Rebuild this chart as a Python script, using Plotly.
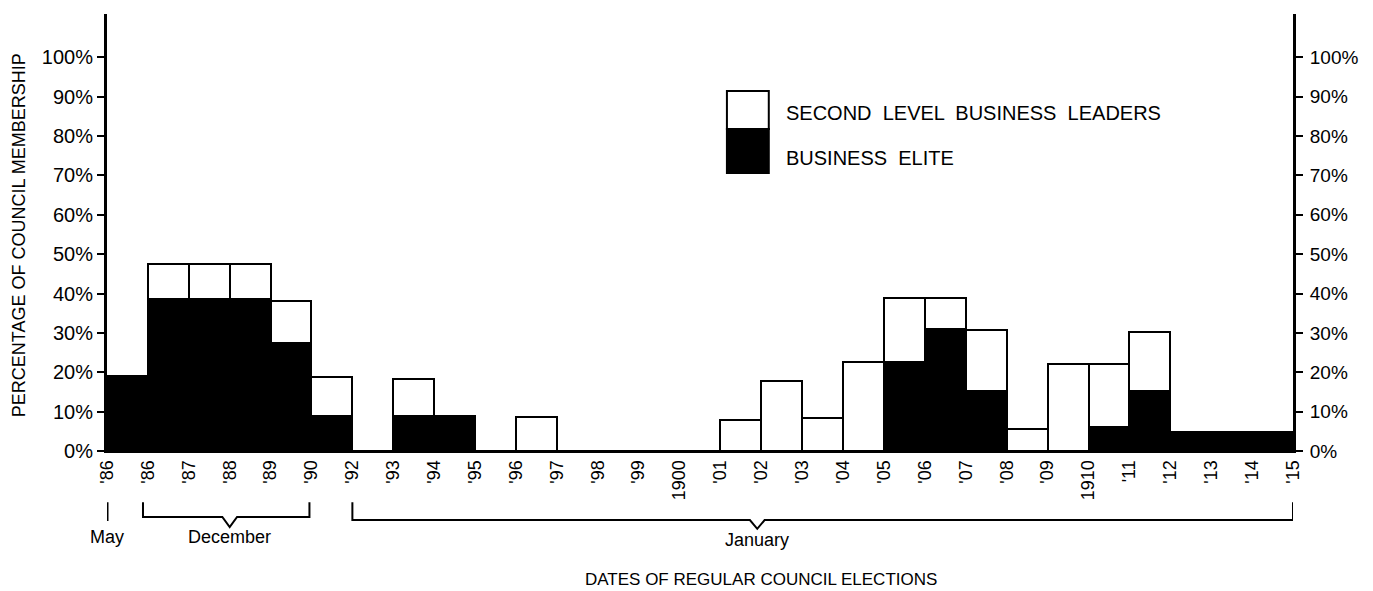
import numpy as np
import plotly.graph_objects as go

# Election date labels (bar boundaries)
tick_labels = ["'86", "'86", "'87", "'88", "'89", "'90", "'92", "'93", "'94", "'95",
               "'96", "'97", "'98", "'99", "1900", "'01", "'02", "'03", "'04", "'05",
               "'06", "'07", "'08", "'09", "1910", "'11", "'12", "'13", "'14", "'15"]

# Percent of council membership for each interval between elections
business_elite = [19, 38.5, 38.5, 38.5, 27.5, 9, 0, 9, 9, 0,
                  0, 0, 0, 0, 0, 0, 0, 0, 0, 22.5,
                  31, 15.2, 0, 0, 6, 15.2, 4.8, 4.8, 4.8]
second_level = [0, 9, 9, 9, 10.5, 9.8, 0, 9.3, 0, 0,
                8.6, 0, 0, 0, 0, 7.9, 17.8, 8.4, 22.6, 16.3,
                7.8, 15.5, 5.6, 22.1, 16.1, 15, 0, 0, 0]

y_ticks = [0, 10, 20, 30, 40, 50, 60, 70, 80, 90, 100]
y_ticktext = [f"{v}%" for v in y_ticks]

FONT = "Liberation Sans, Arial, Helvetica, sans-serif"

n = len(business_elite)
xc = np.arange(n) + 0.5

fig = go.Figure()
fig.add_trace(go.Bar(x=xc, y=business_elite, width=1, name="BUSINESS ELITE",
                     marker=dict(color="black", line=dict(color="black", width=2))))
fig.add_trace(go.Bar(x=xc, y=second_level, width=1, name="SECOND LEVEL BUSINESS LEADERS",
                     marker=dict(color="white", line=dict(color="black", width=2))))
# empty trace so that the right-hand axis is drawn
fig.add_trace(go.Scatter(x=[], y=[], yaxis="y2", showlegend=False, hoverinfo="skip"))

fig.update_layout(
    width=1365, height=583,
    margin=dict(l=99, r=80, t=6, b=140),
    barmode="stack", bargap=0,
    plot_bgcolor="white", paper_bgcolor="white",
    showlegend=False,
    font=dict(family=FONT, color="black", size=18),
    xaxis=dict(range=[0, n], tickvals=list(range(n + 1)), ticktext=tick_labels,
               tickangle=-90, ticks="", showline=True, linecolor="black", linewidth=2,
               showgrid=False, zeroline=False, tickfont=dict(size=18)),
    yaxis=dict(range=[0, 111], tickvals=y_ticks, ticktext=y_ticktext,
               ticks="outside", ticklen=7, tickwidth=2, tickcolor="black",
               showline=True, linecolor="black", linewidth=3,
               showgrid=False, zeroline=False, tickfont=dict(size=20)),
    yaxis2=dict(range=[0, 111], tickvals=y_ticks, ticktext=y_ticktext,
                overlaying="y", side="right", anchor="x",
                ticks="outside", ticklen=7, tickwidth=2, tickcolor="black",
                ticklabelstandoff=3,
                showline=True, linecolor="black", linewidth=3,
                showgrid=False, zeroline=False, tickfont=dict(size=19)),
)

# Legend drawn as boxes
fig.add_shape(type="rect", xref="paper", yref="paper", x0=0.5227, x1=0.558, y0=0.737, y1=0.824,
              fillcolor="white", line=dict(color="black", width=2))
fig.add_shape(type="rect", xref="paper", yref="paper", x0=0.5227, x1=0.558, y0=0.636, y1=0.737,
              fillcolor="black", line=dict(color="black", width=2))
fig.add_annotation(text="SECOND  LEVEL  BUSINESS  LEADERS", xref="paper", yref="paper",
                   x=0.5707, y=0.773, xanchor="left", yanchor="middle", showarrow=False,
                   font=dict(size=20))
fig.add_annotation(text="BUSINESS  ELITE", xref="paper", yref="paper",
                   x=0.5707, y=0.670, xanchor="left", yanchor="middle", showarrow=False,
                   font=dict(size=20))

# Date-month brackets below the axis
yt, yh, yv = -0.117, -0.151, -0.174
fig.add_shape(type="line", xref="x", yref="paper", x0=0, x1=0, y0=-0.117, y1=-0.16,
              line=dict(color="black", width=3))
fig.add_shape(type="path", xref="x", yref="paper",
              path=f"M 0.88,{yt} L 0.88,{yh} L 2.82,{yh} L 3.0,{yv} L 3.18,{yh} L 4.95,{yh} L 4.95,{yt}",
              line=dict(color="black", width=2))
yh2, yv2 = -0.158, -0.178
fig.add_shape(type="path", xref="x", yref="paper",
              path=f"M 6.0,{yt} L 6.0,{yh2} L 15.72,{yh2} L 15.9,{yv2} L 16.08,{yh2} L 29,{yh2} L 29,{yt}",
              line=dict(color="black", width=2))
fig.add_annotation(text="May", xref="x", yref="paper", x=0, y=-0.197, showarrow=False,
                   yanchor="middle", font=dict(size=18))
fig.add_annotation(text="December", xref="x", yref="paper", x=3.0, y=-0.197, showarrow=False,
                   yanchor="middle", font=dict(size=18))
fig.add_annotation(text="January", xref="x", yref="paper", x=15.9, y=-0.203, showarrow=False,
                   yanchor="middle", font=dict(size=18))

fig.add_annotation(text="DATES OF REGULAR COUNCIL ELECTIONS", xref="paper", yref="paper",
                   x=(760 - 105) / 1188, y=-0.295, showarrow=False, yanchor="middle",
                   font=dict(size=17))
fig.add_annotation(text="PERCENTAGE OF COUNCIL MEMBERSHIP", xref="paper", yref="paper",
                   x=(17 - 105) / 1188, y=0.494, textangle=-90, showarrow=False,
                   xanchor="center", yanchor="middle", font=dict(size=18))

fig.write_html("out.html")
